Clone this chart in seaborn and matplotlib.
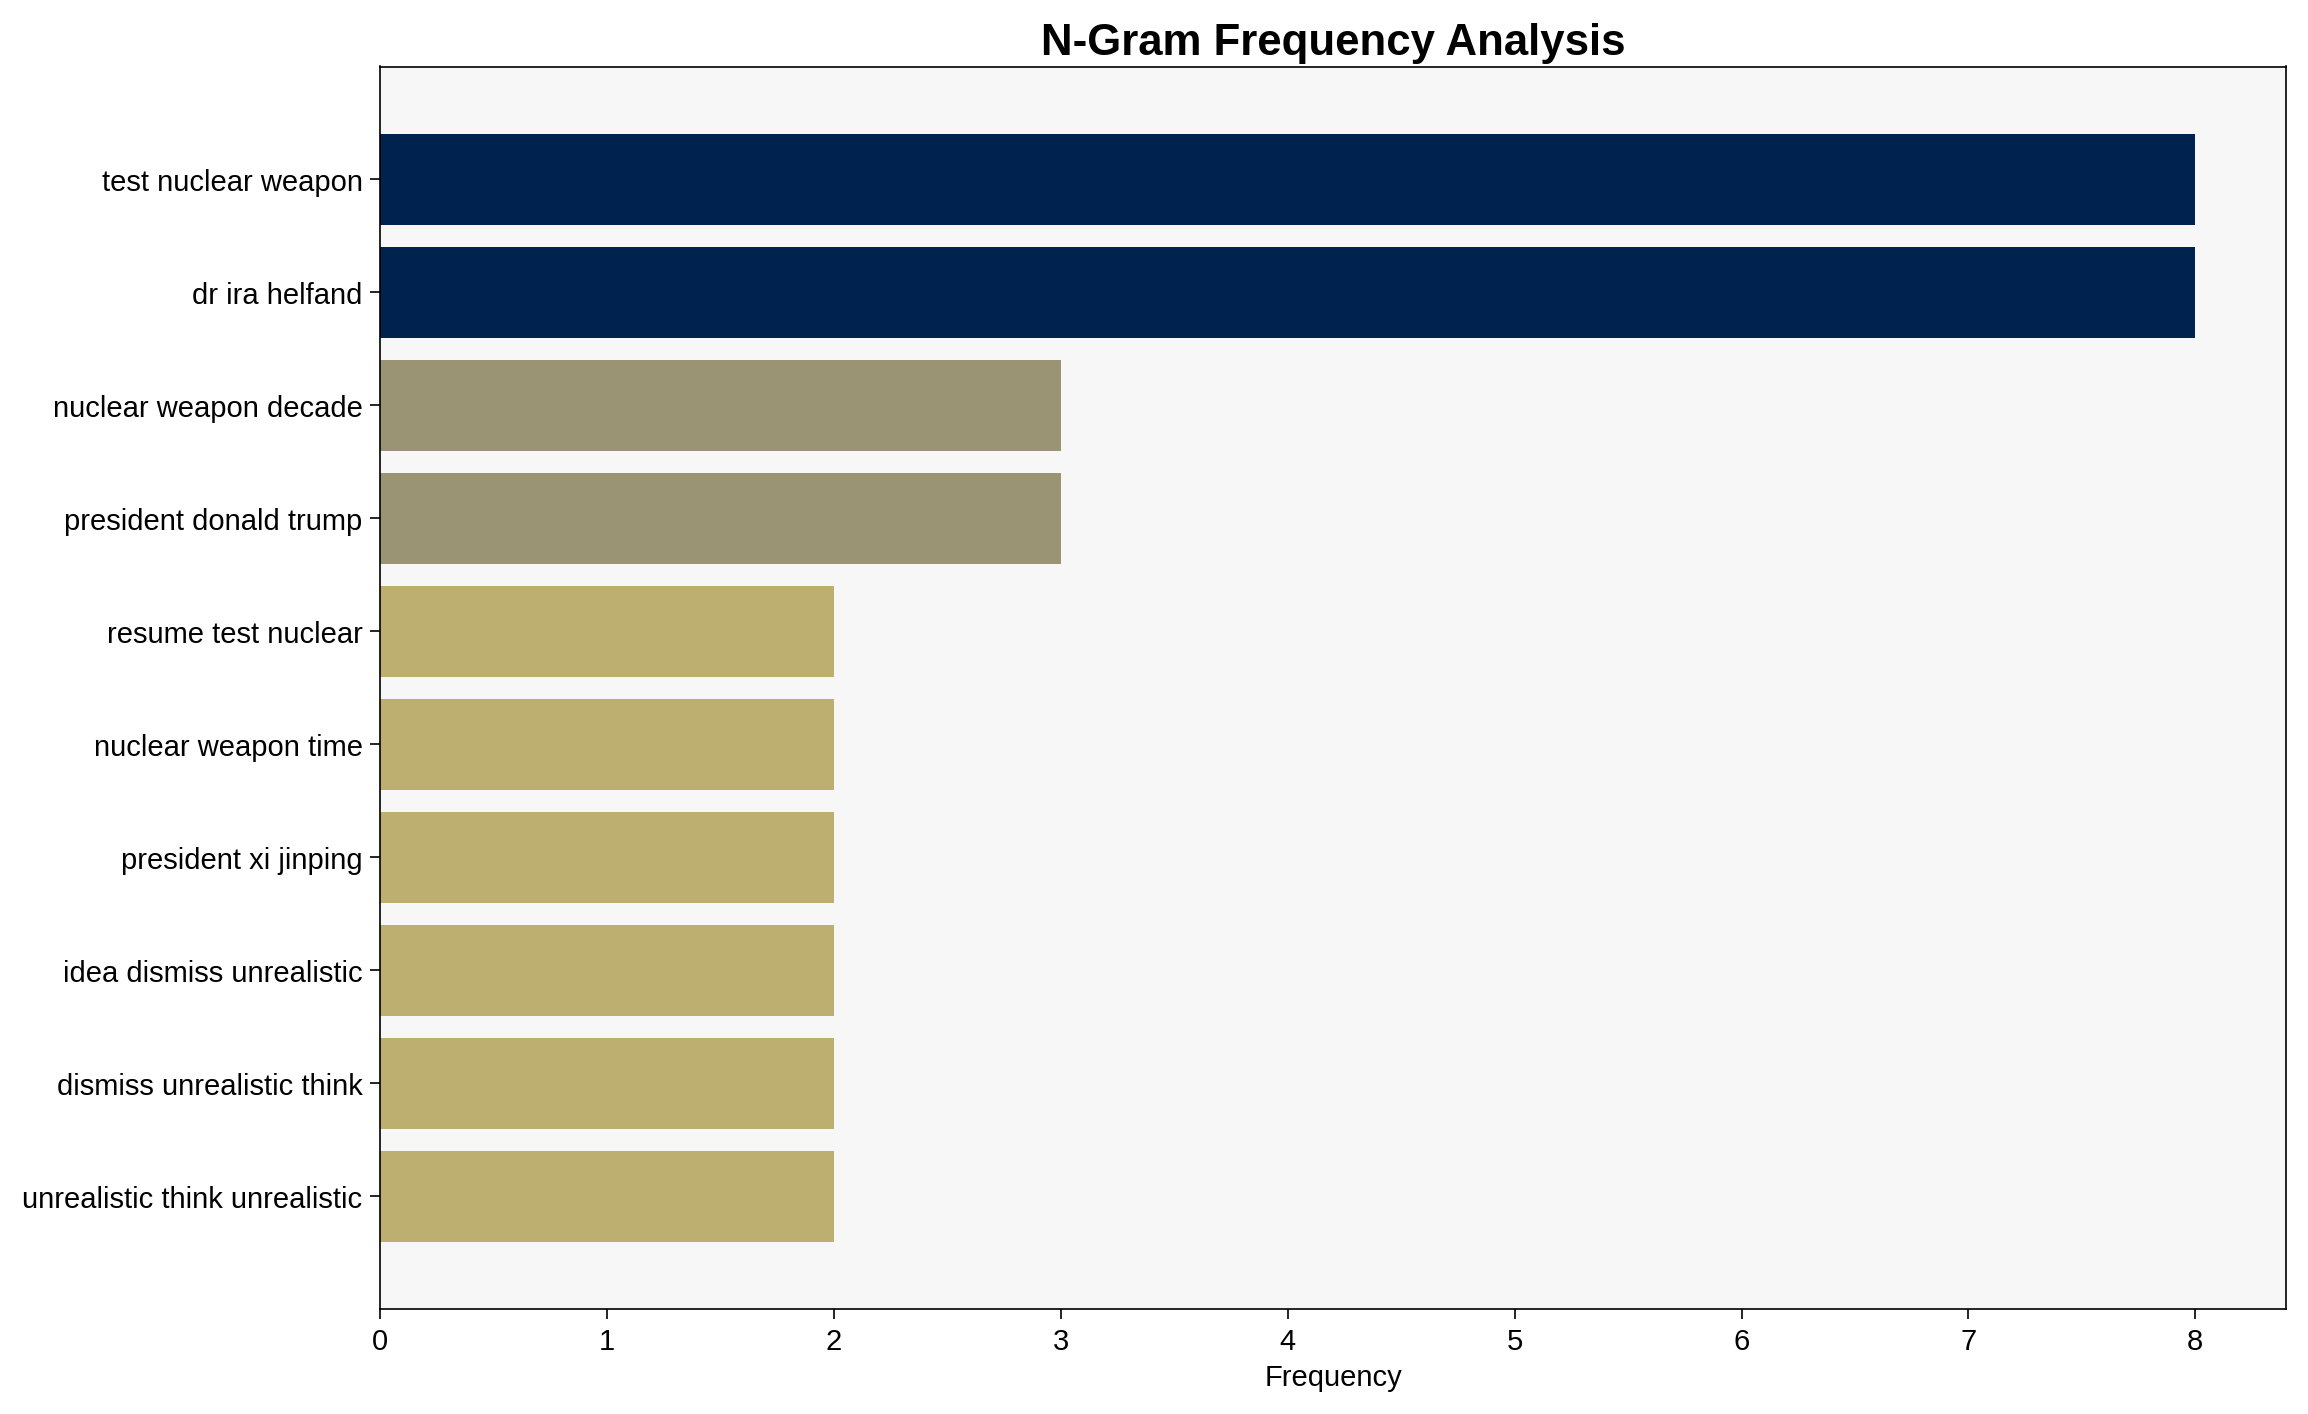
import matplotlib
matplotlib.use("Agg")
import matplotlib.pyplot as plt
import seaborn as sns
import pandas as pd

ngrams = ["test nuclear weapon", "dr ira helfand", "nuclear weapon decade",
          "president donald trump", "resume test nuclear", "nuclear weapon time",
          "president xi jinping", "idea dismiss unrealistic",
          "dismiss unrealistic think", "unrealistic think unrealistic"]
counts = [8, 8, 3, 3, 2, 2, 2, 2, 2, 2]
shade = {8: "#00224e", 3: "#9b9474", 2: "#bcaf6f"}

df = pd.DataFrame({"ngram": ngrams, "count": counts})

sns.set_style("white")
plt.rcParams["font.family"] = ["Liberation Sans", "DejaVu Sans"]
plt.rcParams["text.color"] = "black"
plt.rcParams["axes.labelcolor"] = "black"
plt.rcParams["xtick.color"] = "black"
plt.rcParams["ytick.color"] = "black"

fig, ax = plt.subplots(figsize=(15.39, 9.43), dpi=150)
ax.set_facecolor("#f7f7f7")
sns.barplot(data=df, x="count", y="ngram", hue="count", palette=shade,
            dodge=False, legend=False, width=0.8, saturation=1,
            linewidth=0, ax=ax)
ax.set_title("N-Gram Frequency Analysis", fontsize=21, fontweight="bold")
ax.set_xlabel("Frequency", fontsize=14)
ax.set_ylabel("")
ax.tick_params(axis="both", labelsize=14, length=5, left=True, bottom=True)
ax.set_xlim(0, 8.4)
ax.set_ylim(10.0, -1.0)
for s in ax.spines.values():
    s.set_color("black")
plt.tight_layout()
plt.savefig("out.png", dpi=150)
